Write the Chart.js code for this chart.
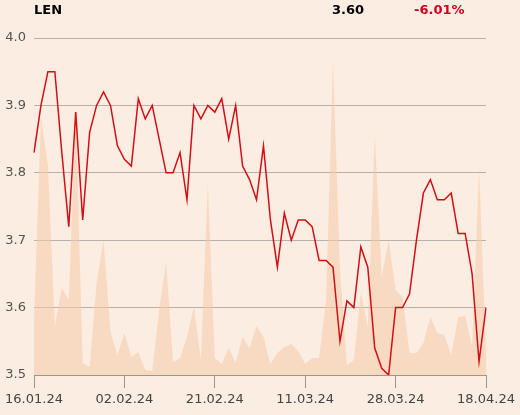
<!DOCTYPE html>
<html>
<head>
<meta charset="utf-8">
<script src="https://cdn.jsdelivr.net/npm/chart.js@4/dist/chart.umd.min.js"></script>
<style>
  html, body { margin: 0; padding: 0; background: #fbede1; }
  #wrap { position: relative; width: 520px; height: 415px; background: #fbede1; }
  canvas { position: absolute; left: 0; top: 0; }
  .hdr { position: absolute; top: 1px; font-family: 'DejaVu Sans', sans-serif; font-weight: bold; font-size: 13px; line-height: 18px; }
</style>
</head>
<body>
<div id="wrap">
  <canvas id="c" width="520" height="415"></canvas>
  <div class="hdr" style="left:34px;color:#000;">LEN</div>
  <div class="hdr" style="left:332px;color:#000;">3.60</div>
  <div class="hdr" style="left:414px;color:#d0021b;">-6.01%</div>
</div>
<script>
const dates = [
  '16.01.24','17.01.24','18.01.24','19.01.24','22.01.24','23.01.24','24.01.24','25.01.24','26.01.24','29.01.24',
  '30.01.24','31.01.24','01.02.24','02.02.24','05.02.24','06.02.24','07.02.24','08.02.24','09.02.24','12.02.24',
  '13.02.24','14.02.24','15.02.24','16.02.24','19.02.24','20.02.24','21.02.24','22.02.24','23.02.24','26.02.24',
  '27.02.24','28.02.24','29.02.24','01.03.24','04.03.24','05.03.24','06.03.24','07.03.24','08.03.24','11.03.24',
  '12.03.24','13.03.24','14.03.24','15.03.24','18.03.24','19.03.24','20.03.24','21.03.24','22.03.24','25.03.24',
  '26.03.24','27.03.24','28.03.24','02.04.24','03.04.24','04.04.24','05.04.24','08.04.24','09.04.24','10.04.24',
  '11.04.24','12.04.24','15.04.24','16.04.24','17.04.24','18.04.24'
];
const prices = [
  3.83,3.90,3.95,3.95,3.83,3.72,3.89,3.73,3.86,3.90,
  3.92,3.90,3.84,3.82,3.81,3.91,3.88,3.90,3.85,3.80,
  3.80,3.83,3.76,3.90,3.88,3.90,3.89,3.91,3.85,3.90,
  3.81,3.79,3.76,3.84,3.73,3.66,3.74,3.70,3.73,3.73,
  3.72,3.67,3.67,3.66,3.55,3.61,3.60,3.69,3.66,3.54,
  3.51,3.50,3.60,3.60,3.62,3.70,3.77,3.79,3.76,3.76,
  3.77,3.71,3.71,3.65,3.52,3.60
];
const volumes = [
  55,257,210,49,87,75,260,12,8,92,
  135,43,20,42,18,23,5,4,65,113,
  13,17,38,68,15,192,17,11,27,12,
  38,27,49,38,11,22,28,31,24,11,
  17,17,75,313,105,10,15,83,48,240,
  98,135,85,78,22,22,32,58,42,40,
  20,58,59,28,208,20
];
const tickLabels = ['16.01.24','02.02.24','21.02.24','11.03.24','28.03.24','18.04.24'];
const yTicks = [3.5, 3.6, 3.7, 3.8, 3.9, 4.0];

const FONT = "'DejaVu Sans', sans-serif";

new Chart(document.getElementById('c'), {
  type: 'line',
  data: {
    labels: dates,
    datasets: [
      {
        data: prices,
        yAxisID: 'y',
        borderColor: '#d40e14',
        borderWidth: 1.5,
        pointRadius: 0,
        tension: 0,
        fill: false
      },
      {
        data: volumes,
        yAxisID: 'y2',
        borderWidth: 0,
        borderColor: 'rgba(0,0,0,0)',
        backgroundColor: 'rgba(245,203,171,0.55)',
        pointRadius: 0,
        tension: 0,
        fill: 'origin'
      }
    ]
  },
  options: {
    responsive: false,
    animation: false,
    events: [],
    layout: { padding: { top: 38, right: 34, left: 0, bottom: 0 } },
    plugins: { legend: { display: false }, tooltip: { enabled: false } },
    scales: {
      x: {
        type: 'category',
        offset: false,
        border: { display: true, color: '#9a9692', width: 1 },
        grid: { drawOnChartArea: false, drawTicks: true, tickLength: 13, color: '#9a9692' },
        ticks: {
          autoSkip: false,
          maxRotation: 0,
          padding: 4,
          color: '#444',
          font: { family: FONT, size: 13 },
          callback: function (v, i) {
            const l = this.getLabelForValue(v);
            return tickLabels.includes(l) ? l : null;
          }
        },
        afterFit: function (s) { s.height = 40; }
      },
      y: {
        min: yTicks[0],
        max: yTicks[yTicks.length - 1],
        border: { display: false },
        grid: { drawTicks: false, color: '#b6b1ac', lineWidth: 1 },
        afterBuildTicks: function (s) { s.ticks = yTicks.map(v => ({ value: v })); },
        ticks: {
          padding: 8,
          color: '#555',
          font: { family: FONT, size: 13 },
          callback: v => v.toFixed(1)
        },
        afterFit: function (s) { s.width = 34; }
      },
      y2: {
        display: false,
        min: 0,
        max: 337
      }
    }
  }
});
</script>
</body>
</html>
